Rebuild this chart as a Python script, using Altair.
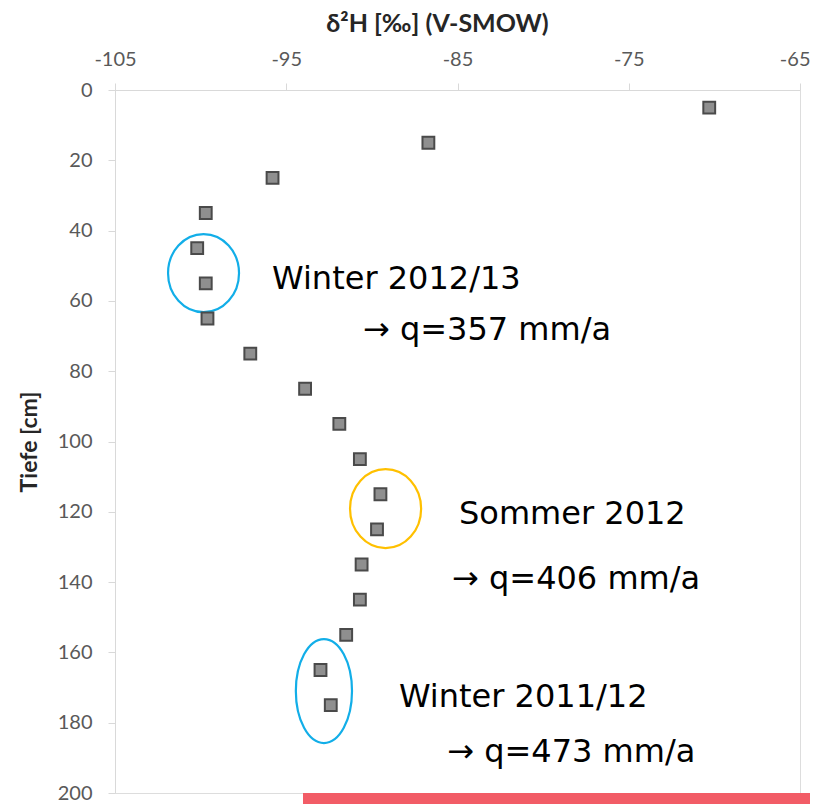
import altair as alt
import pandas as pd

# --- data ---
depth = [5, 15, 25, 35, 45, 55, 65, 75, 85, 95, 105, 115, 125, 135, 145, 155, 165, 175]
d2h = [-70.3, -86.7, -95.8, -99.7, -100.2, -99.7, -99.6, -97.1, -93.9, -91.9,
       -90.7, -89.5, -89.7, -90.6, -90.7, -91.5, -93.0, -92.4]

x_ticks = [-105, -95, -85, -75, -65]
y_ticks = [0, 20, 40, 60, 80, 100, 120, 140, 160, 180, 200]

# highlight ellipses (centre in data units, half-height in px, width/height ratio)
ell_x = [-99.83, -89.2, -92.8]
ell_y = [52.1, 119.1, 171.0]
ell_color = ["#12aee8", "#ffc000", "#12aee8"]
ell_ratio = [0.91, 0.90, 0.54]
ell_r = [39, 39.5, 52]

# annotation texts
ann_text = ["Winter 2012/13", "→ q=357 mm/a", "Sommer 2012", "→ q=406 mm/a",
            "Winter 2011/12", "→ q=473 mm/a"]
ann_x = [-95.83, -90.52, -84.91, -85.32, -88.42, -85.6]
ann_y = [56.6, 71.1, 123.5, 142.0, 175.5, 191.2]

W, H = 685, 703

pts = pd.DataFrame({"d2h": d2h, "depth": depth})
ell = pd.DataFrame({
    "x": ell_x, "y": ell_y, "color": ell_color,
    "path": [f"M {-r:.3f} 0 A {r:.3f} 1 0 1 1 {r:.3f} 0 A {r:.3f} 1 0 1 1 {-r:.3f} 0 Z" for r in ell_ratio],
    "size": [(2 * r) ** 2 for r in ell_r],
})
txt = pd.DataFrame({"t": ann_text, "x": ann_x, "y": ann_y})

xscale = alt.Scale(domain=[-105, -65], nice=False, zero=False)
yscale = alt.Scale(domain=[0, 200], reverse=True, nice=False)

xaxis = alt.Axis(
    orient="top", values=x_ticks, title="δ²H [‰] (V-SMOW)", grid=False,
    labelExpr="toString(datum.value)", labelFlush=False,
    labelAlign=alt.ExprRef("datum.value == -65 ? 'right' : 'center'"),
    labelOffset=alt.ExprRef("datum.value == -65 ? 10 : 0"),
    labelFont="Lato", labelFontSize=20, labelColor="#595959", labelPadding=14,
    domainColor="#d9d9d9", tickColor="#d9d9d9", tickSize=7,
    titleFont="Lato", titleFontSize=25, titleFontWeight="bold", titleColor="#262626",
    titleX=322, titleY=-59, titleBaseline="alphabetic", titleAlign="center",
)
yaxis = alt.Axis(
    values=y_ticks, title="Tiefe [cm]", grid=False, labelFlush=False,
    labelFont="Lato", labelFontSize=20, labelColor="#595959", labelPadding=16,
    domainColor="#d9d9d9", tickColor="#d9d9d9", tickSize=7,
    titleFont="Lato", titleFontSize=23, titleFontWeight="bold", titleColor="#262626",
    titleX=-86, titleY=H / 2, titleBaseline="middle", titleAlign="center", titleAngle=-90,
)

points = alt.Chart(pts).mark_point(
    shape="square", filled=True, size=140, fill="#8f8f8f", stroke="#4a4a4a",
    strokeWidth=2, opacity=1,
).encode(
    x=alt.X("d2h:Q", scale=xscale, axis=xaxis),
    y=alt.Y("depth:Q", scale=yscale, axis=yaxis),
)

ellipses = alt.Chart(ell).mark_point(filled=False, strokeWidth=2.2, opacity=1).encode(
    x=alt.X("x:Q", scale=xscale),
    y=alt.Y("y:Q", scale=yscale),
    shape=alt.Shape("path:N", scale=None),
    size=alt.Size("size:Q", scale=None),
    stroke=alt.Stroke("color:N", scale=None),
)

texts = alt.Chart(txt).mark_text(
    align="left", baseline="alphabetic", font="DejaVu Sans", fontSize=32, color="#000000",
).encode(x=alt.X("x:Q", scale=xscale), y=alt.Y("y:Q", scale=yscale), text="t:N")

redbar = alt.Chart(pd.DataFrame({"a": [0]})).mark_rect(color="#f25c66").encode(
    x=alt.value(188), x2=alt.value(W + 10), y=alt.value(H), y2=alt.value(H + 11),
)

chart = alt.layer(ellipses, points, texts, redbar).properties(
    width=W, height=H,
    autosize=alt.AutoSizeParams(type="none"),
    padding={"left": 107, "top": 82, "right": 10, "bottom": 11},
).configure_view(stroke="#d9d9d9", strokeWidth=1.5).configure(background="white")

chart.save("out.html", embed_options={"renderer": "svg", "actions": False})
